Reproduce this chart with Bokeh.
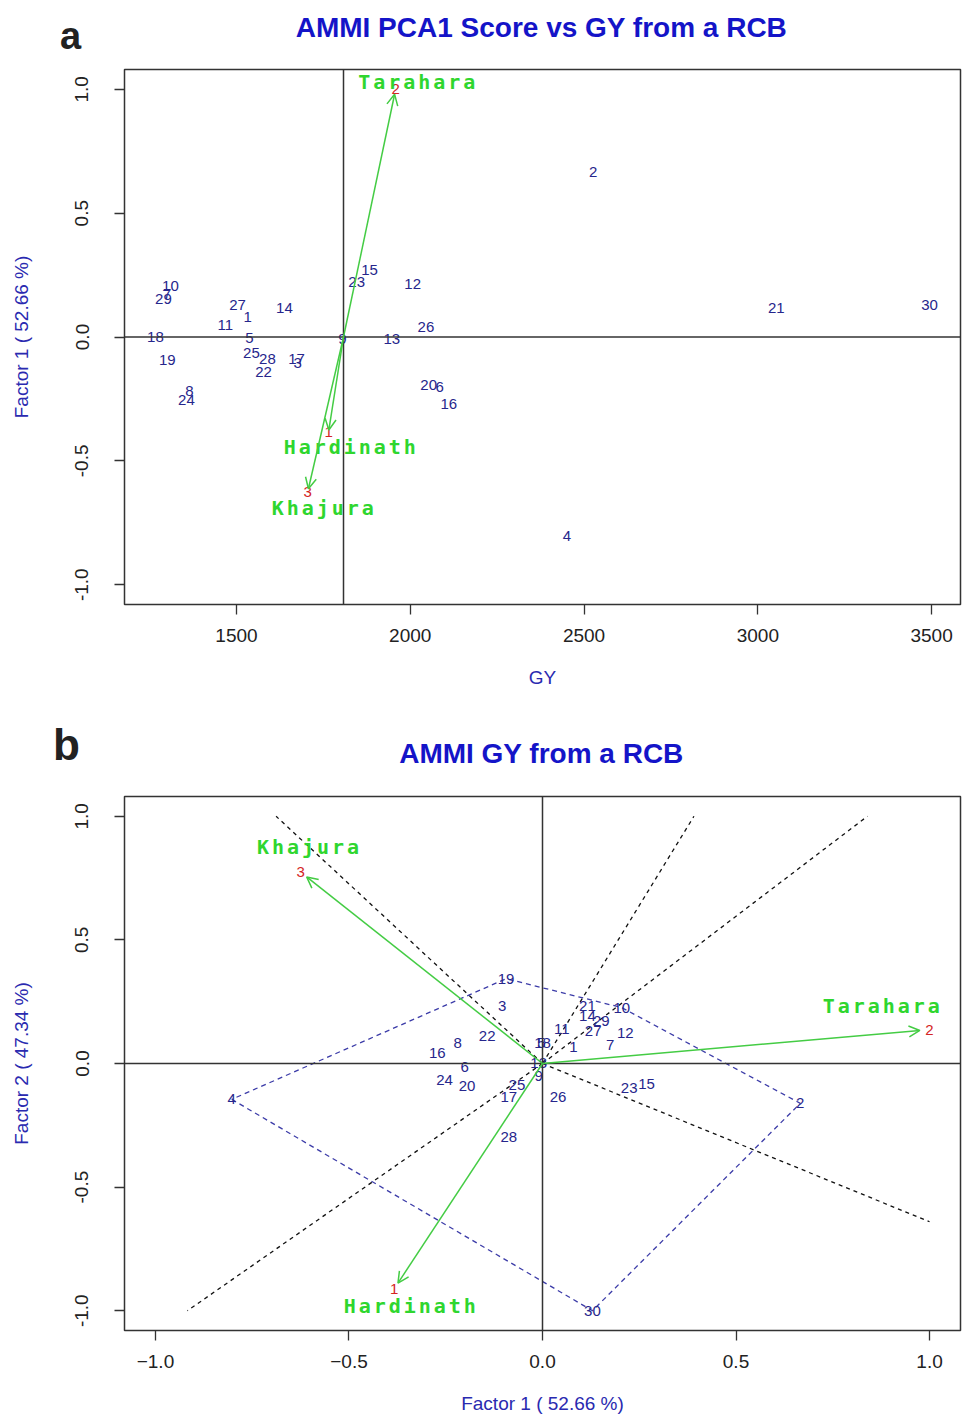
import numpy as np
from bokeh.plotting import figure
from bokeh.models import (ColumnDataSource, Range1d, FixedTicker, Span, Arrow,
                          OpenHead, PrintfTickFormatter)
from bokeh.layouts import column
from bokeh.embed import file_html
from bokeh.resources import INLINE
from bokeh.core.properties import value

# ---------------- data ----------------
GENOTYPES = [str(i) for i in range(1, 31)]
GY = [1532, 2526, 1676, 2451, 1537, 2085, 1301, 1365, 1805, 1310,
      1468, 2007, 1947, 1638, 1883, 2111, 1673, 1267, 1301, 2053,
      3053, 1578, 1846, 1356, 1543, 2045, 1503, 1589, 1290, 3494]
PC1 = [0.080, 0.666, -0.104, -0.803, -0.003, -0.201, 0.175, -0.219, -0.010, 0.205,
       0.050, 0.214, -0.010, 0.116, 0.269, -0.272, -0.087, 0.000, -0.094, -0.195,
       0.116, -0.143, 0.224, -0.253, -0.066, 0.040, 0.131, -0.087, 0.152, 0.129]
PC2 = [0.065, -0.161, 0.234, -0.145, 0.081, -0.016, 0.073, 0.081, -0.052, 0.226,
       0.141, 0.125, 0.004, 0.194, -0.081, 0.044, -0.137, 0.081, 0.343, -0.093,
       0.234, 0.113, -0.101, -0.065, -0.085, -0.137, 0.133, -0.298, 0.173, -1.000]

ENVS = ["Hardinath", "Tarahara", "Khajura"]
ENV_IDS = ["1", "2", "3"]
ENV_GY = [1765, 1958, 1705]
ENV_PC1 = [-0.383, 1.000, -0.625]
ENV_PC2 = [-0.911, 0.137, 0.774]
GY_MEAN = 1808

# environment name label positions
ENV_NAME_GY_A = [1826, 2019, 1748]
ENV_NAME_PC1_A = [-0.444, 1.028, -0.690]
ENV_NAME_PC1_B = [-0.343, 0.875, -0.606]
ENV_NAME_PC2_B = [-0.980, 0.234, 0.875]

X_TICKS_A = [1500, 2000, 2500, 3000, 3500]
FACTOR_TICKS = [-1.0, -0.5, 0.0, 0.5, 1.0]
FACTOR_TICK_LABELS_X = ["\u22121.0", "\u22120.5", "0.0", "0.5", "1.0"]

TITLE_A = "AMMI PCA1 Score vs GY from a RCB"
TITLE_B = "AMMI GY from a RCB"
XLABEL_A = "GY"
YLABEL_A = "Factor 1 ( 52.66 %)"
XLABEL_B = "Factor 1 ( 52.66 %)"
YLABEL_B = "Factor 2 ( 47.34 %)"

# ---------------- styles ----------------
NAVY = "#26268c"
RED = "#d42424"
GREEN = "#2fd62f"
ARROW_GREEN = "#44cc44"
TITLE_BLUE = "#1414c8"
LABEL_BLUE = "#2a2ab0"
FONT = "Liberation Sans"
MONO = "DejaVu Sans Mono"
W = 963
LEFT = 124
FRAME_W = 836
FRAME_H = 535


def style(p, xticks, yticks):
    p.grid.visible = False
    p.outline_line_color = "#333333"
    p.outline_line_width = 1.5
    p.background_fill_color = "white"
    p.border_fill_color = "white"
    for ax in (p.xaxis[0], p.yaxis[0]):
        ax.axis_line_color = None
        ax.major_tick_out = 10
        ax.major_tick_in = 0
        ax.major_tick_line_color = "#333333"
        ax.major_tick_line_width = 1.3
        ax.minor_tick_line_color = None
        ax.major_label_text_font = FONT
        ax.major_label_text_font_size = "19px"
        ax.major_label_text_color = "#222222"
        ax.axis_label_text_font = FONT
        ax.axis_label_text_font_size = "19px"
        ax.axis_label_text_font_style = "normal"
        ax.axis_label_text_color = LABEL_BLUE
    p.xaxis[0].ticker = FixedTicker(ticks=xticks)
    p.yaxis[0].ticker = FixedTicker(ticks=yticks)
    p.xaxis[0].major_label_standoff = 14
    p.xaxis[0].axis_label_standoff = 22
    p.yaxis[0].major_label_orientation = "vertical"
    p.yaxis[0].major_label_standoff = 26
    p.yaxis[0].axis_label_standoff = 41
    p.yaxis[0].formatter = PrintfTickFormatter(format="%.1f")


def spaced_name(p, xs, ys, names, pitch=15):
    cx, cy, ch, off = [], [], [], []
    for x, y, n in zip(xs, ys, names):
        for i, c in enumerate(n):
            cx.append(x)
            cy.append(y)
            ch.append(c)
            off.append((i - (len(n) - 1) / 2) * pitch)
    src = ColumnDataSource(dict(x=cx, y=cy, ch=ch, off=off))
    p.text(x="x", y="y", text="ch", x_offset="off", source=src,
           text_font=value(MONO), text_font_style="bold", text_font_size="20px",
           text_color=GREEN, text_align="center", text_baseline="middle")


def header(h, letter, title, letter_xy, title_xy, letter_size, letter_baseline):
    hf = figure(width=W, height=h, x_range=Range1d(0, W), y_range=Range1d(0, h),
                output_backend="svg", toolbar_location=None, x_axis_type=None,
                y_axis_type=None, min_border=0)
    if "frame_align" in hf.properties():
        hf.frame_align = False
    hf.grid.visible = False
    hf.outline_line_color = None
    hf.background_fill_color = "white"
    hf.border_fill_color = "white"
    hf.text(x=[letter_xy[0]], y=[h - letter_xy[1]], text=[letter], text_font=value(FONT),
            text_font_style="bold", text_font_size=letter_size, text_color="#222222",
            text_align="center", text_baseline=letter_baseline)
    hf.text(x=[title_xy[0]], y=[h - title_xy[1]], text=[title], text_font=value(FONT),
            text_font_style="bold", text_font_size="28px", text_color=TITLE_BLUE,
            text_align="center", text_baseline="middle")
    return hf


def arrows(p, ox, oy, ex, ey, f=0.98):
    x1 = [ox + f * (a - ox) for a in ex]
    y1 = [oy + f * (b - oy) for b in ey]
    src = ColumnDataSource(dict(x0=[ox] * len(ex), y0=[oy] * len(ey), x1=x1, y1=y1))
    p.add_layout(Arrow(end=OpenHead(size=11, line_color=ARROW_GREEN, line_width=1.5),
                       x_start="x0", y_start="y0", x_end="x1", y_end="y1",
                       source=src, line_color=ARROW_GREEN, line_width=1.5))


# ---------------- panel a ----------------
HA_HEAD = 60
h1 = header(HA_HEAD, "a", TITLE_A, (70, 35), (541, 27), "38px", "alphabetic")

gmin, gmax = min(GY), max(GY)
pad = 0.04 * (gmax - gmin)
H1, TOP1 = 652, 9
p1 = figure(width=W, height=H1, x_range=Range1d(gmin - pad, gmax + pad),
            y_range=Range1d(-1.08, 1.08), output_backend="svg",
            toolbar_location=None, min_border_left=LEFT,
            min_border_right=W - LEFT - FRAME_W, min_border_top=TOP1,
            min_border_bottom=H1 - TOP1 - FRAME_H, x_axis_label=XLABEL_A,
            y_axis_label=YLABEL_A)
style(p1, X_TICKS_A, FACTOR_TICKS)
p1.xaxis[0].formatter = PrintfTickFormatter(format="%d")
p1.add_layout(Span(location=GY_MEAN, dimension="height", line_color="#333333", line_width=1.5))
p1.add_layout(Span(location=0, dimension="width", line_color="#333333", line_width=1.5))
arrows(p1, GY_MEAN, 0, ENV_GY, ENV_PC1)
p1.text(x=GY, y=PC1, text=GENOTYPES, text_font=value(FONT), text_font_size="15px",
        text_color=NAVY, text_align="center", text_baseline="middle")
p1.text(x=ENV_GY, y=ENV_PC1, text=ENV_IDS, text_font=value(FONT), text_font_size="15px",
        text_color=RED, text_align="center", text_baseline="middle")
spaced_name(p1, ENV_NAME_GY_A, ENV_NAME_PC1_A, ENVS)

# ---------------- panel b ----------------
HB_HEAD = 68
h2 = header(HB_HEAD, "b", TITLE_B, (66, 744 - 712), (541, 753 - 712), "44px", "middle")

H2, TOP2 = 636, 16
p2 = figure(width=W, height=H2, x_range=Range1d(-1.08, 1.08),
            y_range=Range1d(-1.08, 1.08), output_backend="svg",
            toolbar_location=None, min_border_left=LEFT,
            min_border_right=W - LEFT - FRAME_W, min_border_top=TOP2,
            min_border_bottom=H2 - TOP2 - FRAME_H, x_axis_label=XLABEL_B,
            y_axis_label=YLABEL_B)
style(p2, FACTOR_TICKS, FACTOR_TICKS)
p2.xaxis[0].major_label_overrides = {t: s for t, s in zip(FACTOR_TICKS, FACTOR_TICK_LABELS_X)}
p2.add_layout(Span(location=0, dimension="height", line_color="#333333", line_width=1.5))
p2.add_layout(Span(location=0, dimension="width", line_color="#333333", line_width=1.5))

# convex hull of genotype scores (monotone chain)
pts = sorted(set(zip(PC1, PC2)))


def cross(o, a, b):
    return (a[0] - o[0]) * (b[1] - o[1]) - (a[1] - o[1]) * (b[0] - o[0])


lower, upper = [], []
for pt in pts:
    while len(lower) >= 2 and cross(lower[-2], lower[-1], pt) <= 0:
        lower.pop()
    lower.append(pt)
for pt in reversed(pts):
    while len(upper) >= 2 and cross(upper[-2], upper[-1], pt) <= 0:
        upper.pop()
    upper.append(pt)
hull = lower[:-1] + upper[:-1]
hx = [h[0] for h in hull] + [hull[0][0]]
hy = [h[1] for h in hull] + [hull[0][1]]

# sector rays perpendicular to hull edges, out to the unit square
rx, ry = [], []
for a, b in zip(hull, hull[1:] + hull[:1]):
    nx, ny = (b[1] - a[1]), -(b[0] - a[0])
    if nx * a[0] + ny * a[1] < 0:
        nx, ny = -nx, -ny
    t = min(1 / abs(nx) if nx else 1e9, 1 / abs(ny) if ny else 1e9)
    rx.append(nx * t)
    ry.append(ny * t)
p2.segment(x0=[0] * len(rx), y0=[0] * len(ry), x1=rx, y1=ry, line_color="#111111",
           line_width=1.3, line_dash="4 4")
p2.line(hx, hy, line_color="#3c3ca8", line_width=1.3, line_dash="5 4")

arrows(p2, 0, 0, ENV_PC1, ENV_PC2, f=0.975)
p2.text(x=PC1, y=PC2, text=GENOTYPES, text_font=value(FONT), text_font_size="15px",
        text_color=NAVY, text_align="center", text_baseline="middle")
p2.text(x=ENV_PC1, y=ENV_PC2, text=ENV_IDS, text_font=value(FONT), text_font_size="15px",
        text_color=RED, text_align="center", text_baseline="middle")
spaced_name(p2, ENV_NAME_PC1_B, ENV_NAME_PC2_B, ENVS)

layout = column(h1, p1, h2, p2)
open("out.html", "w").write(file_html(layout, INLINE))
